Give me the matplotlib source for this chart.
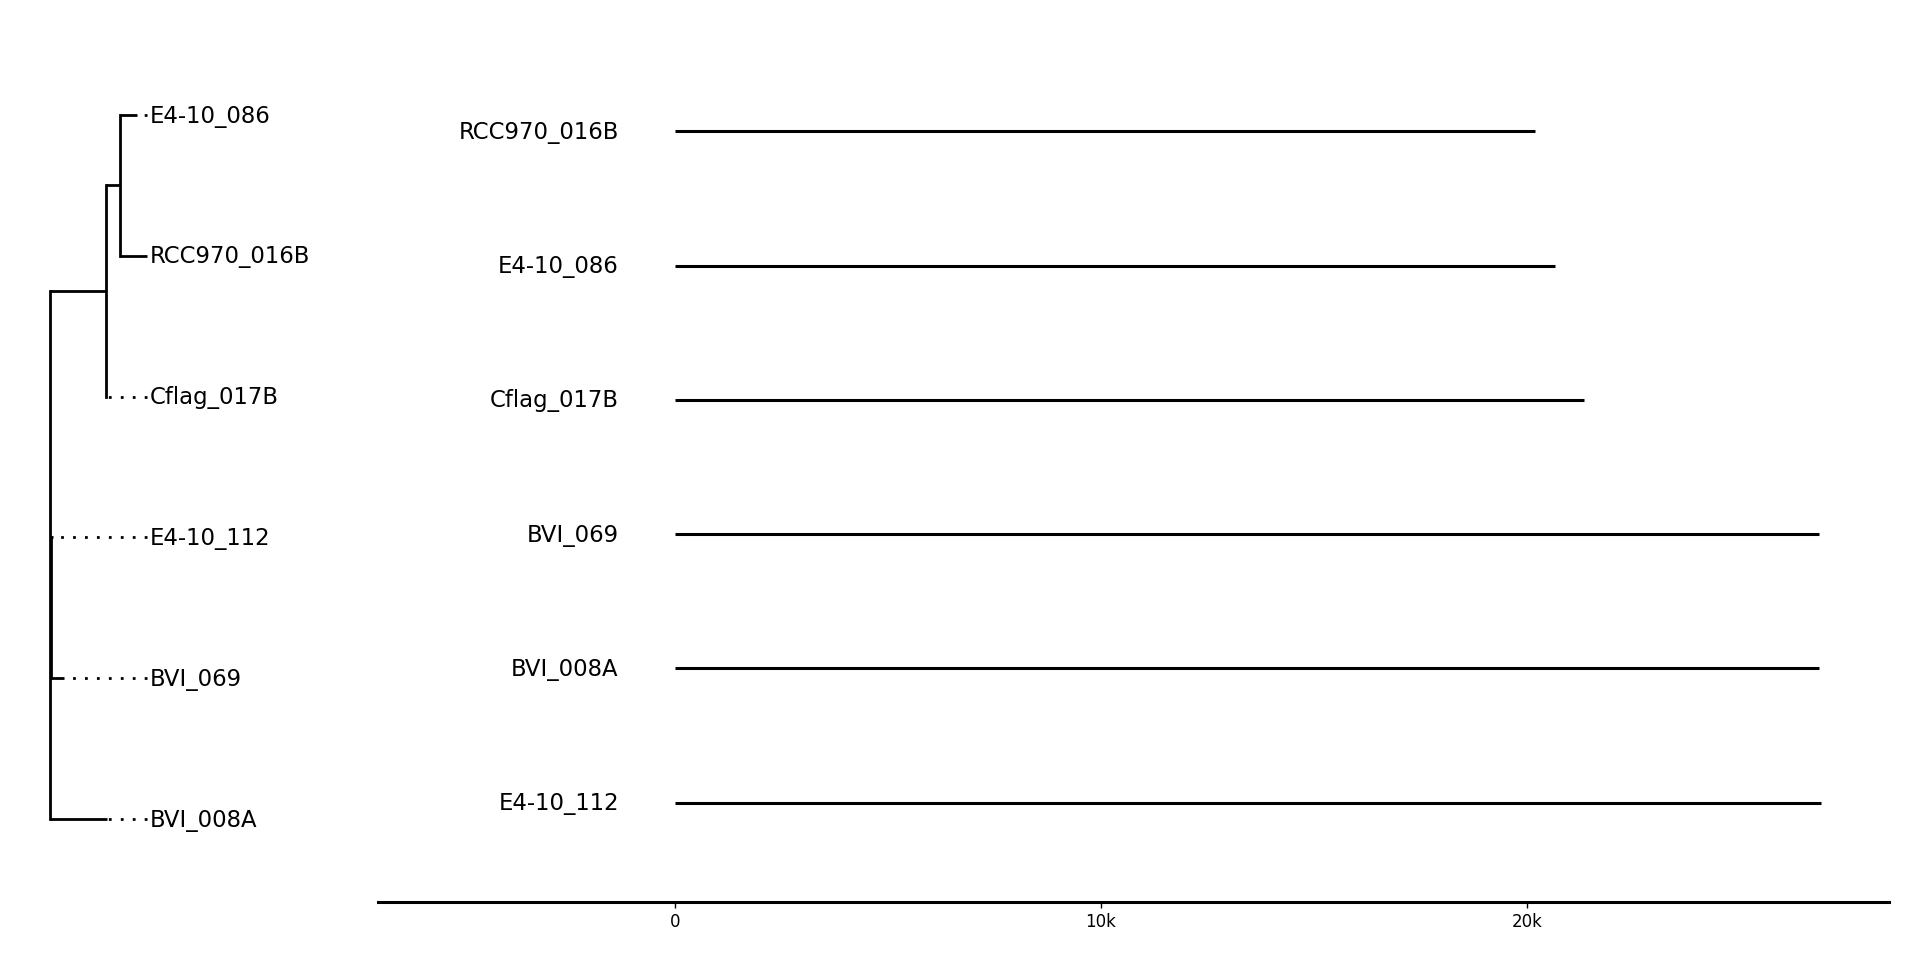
import matplotlib
matplotlib.use("Agg")
import matplotlib.pyplot as plt
import numpy as np

# ---- data ----
# tree: (name, branch_length, children)
tree = ("root", 0.0, [
    ("cladeA", 0.056, [
        ("node2", 0.014, [
            ("E4-10_086", 0.017, []),
            ("RCC970_016B", 0.027, []),
        ]),
        ("Cflag_017B", 0.0, []),
    ]),
    ("cladeB", 0.001, [
        ("E4-10_112", 0.0015, []),
        ("BVI_069", 0.013, []),
    ]),
    ("BVI_008A", 0.057, []),
])

track_names = ["RCC970_016B", "E4-10_086", "Cflag_017B", "BVI_069", "BVI_008A", "E4-10_112"]
track_lengths = [20190, 20660, 21330, 26850, 26860, 26900]
tick_values = [0, 10000, 20000]
tick_labels = ["0", "10k", "20k"]

W, H = 1920, 960
fig = plt.figure(figsize=(W / 100, H / 100), dpi=100)
fig.patch.set_facecolor("white")

# ---- tree layout ----
leaves = []
def collect(node):
    if not node[2]:
        leaves.append(node[0])
    for c in node[2]:
        collect(c)
collect(tree)

pos = {}
def layout(node, x0):
    name, bl, kids = node
    x = x0 + bl
    if not kids:
        y = leaves.index(name)
    else:
        ys = [layout(k, x) for k in kids]
        y = float(np.mean(ys))
    pos[name] = (x, y)
    return y
layout(tree, 0.0)
maxx = max(pos[l][0] for l in leaves)

ax_t = fig.add_axes([50 / W, 1 - 819 / H, 97 / W, (819 - 115) / H])
ax_t.set_xlim(0, maxx)
ax_t.set_ylim(len(leaves) - 1, 0)
ax_t.axis("off")

lw = 2.0
FS = 16.4
def draw(node):
    name, bl, kids = node
    x, y = pos[name]
    if kids:
        cy = [pos[k[0]][1] for k in kids]
        ax_t.plot([x, x], [min(cy), max(cy)], color="black", lw=lw,
                  solid_capstyle="projecting", clip_on=False)
        for k in kids:
            kx, ky = pos[k[0]]
            ax_t.plot([x, kx], [ky, ky], color="black", lw=lw,
                      solid_capstyle="butt", clip_on=False)
            draw(k)
    else:
        if x < maxx - 1e-9:
            ax_t.plot([maxx, x], [y, y], color="black", lw=2.0,
                      linestyle=(0, (1, 3.3)), clip_on=False)
        ax_t.annotate(name, (maxx, y), xytext=(2, -0.8), textcoords="offset points",
                      ha="left", va="center", fontsize=FS, color="black",
                      annotation_clip=False)
draw(tree)

# ---- track panel ----
x0_px, x1_px = 378, 1889
zero_px, per_k = 675, 42.6
xmin = (x0_px - zero_px) / per_k * 1000
xmax = (x1_px - zero_px) / per_k * 1000
ax = fig.add_axes([x0_px / W, 1 - 902 / H, (x1_px - x0_px) / W, 870 / H])
ax.set_xlim(xmin, xmax)
n = len(track_names)
ax.set_ylim(n - 1 + 0.74, -0.74)
rows = np.arange(n)
ax.hlines(rows, 0, track_lengths, color="black", lw=2.2, capstyle="butt")
for r, name in zip(rows, track_names):
    ax.annotate(name, (-1320, r), xytext=(0, -0.8), textcoords="offset points",
                ha="right", va="center", fontsize=FS, color="black")

for s in ["left", "top", "right"]:
    ax.spines[s].set_visible(False)
ax.spines["bottom"].set_linewidth(2.2)
ax.set_yticks([])
ax.set_xticks(tick_values)
ax.set_xticklabels(tick_labels, fontsize=12)
ax.tick_params(axis="x", direction="out", length=4, width=1, pad=4, colors="black")

fig.savefig("out.png", dpi=100, facecolor="white")
